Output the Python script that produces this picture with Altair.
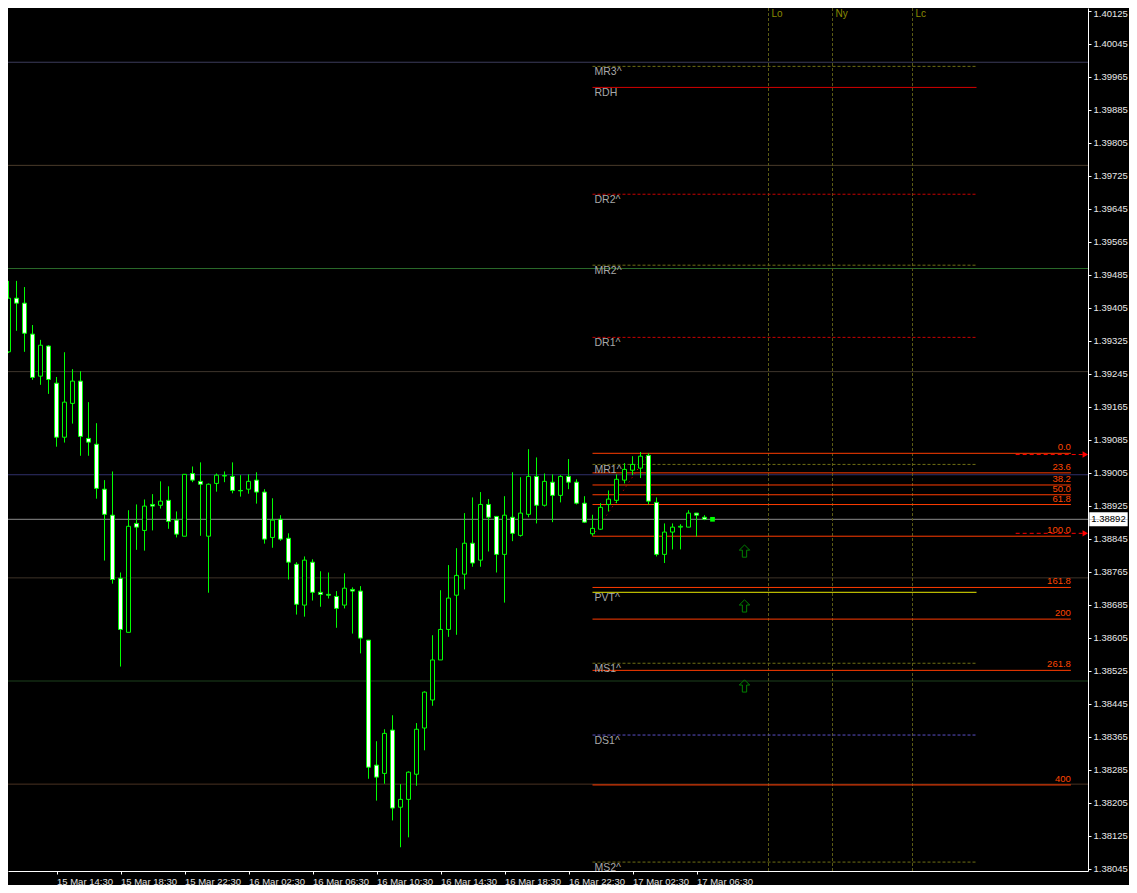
import json
import altair as alt
import pandas as pd

# ---------------- data (30-minute bars, index 0..89) ----------------
bars = list(range(90))
opens = [1.39200, 1.39298, 1.39428, 1.39416, 1.39341, 1.39239, 1.39312, 1.39222, 1.39091, 1.39173,
         1.39227, 1.39088, 1.39074, 1.38965, 1.38902, 1.38749, 1.38618, 1.38882, 1.38865, 1.38928,
         1.38926, 1.38938, 1.38890, 1.38851, 1.39003, 1.38984, 1.38851, 1.38979, 1.38998, 1.38996,
         1.38962, 1.38965, 1.38987, 1.38958, 1.38848, 1.38892, 1.38846, 1.38783, 1.38684, 1.38788,
         1.38715, 1.38710, 1.38705, 1.38684, 1.38722, 1.38718, 1.38599, 1.38296, 1.38276, 1.38381,
         1.38194, 1.38213, 1.38274, 1.38386, 1.38454, 1.38551, 1.38625, 1.38708, 1.38759, 1.38834,
         1.38793, 1.38928, 1.38899, 1.38807, 1.38897, 1.38853, 1.38904, 1.38996, 1.38926, 1.38982,
         1.38950, 1.38996, 1.38982, 1.38931, 1.38857, 1.38868, 1.38928, 1.38938, 1.38987, 1.39011,
         1.39016, 1.39047, 1.38933, 1.38807, 1.38861, 1.38873, 1.38873, 1.38907, 1.38897, 1.38892]
highs = [1.39346, 1.39470, 1.39470, 1.39455, 1.39363, 1.39327, 1.39314, 1.39237, 1.39297, 1.39256,
         1.39251, 1.39176, 1.39125, 1.38987, 1.39008, 1.38763, 1.38914, 1.38928, 1.38940, 1.38953,
         1.38984, 1.38972, 1.38911, 1.39001, 1.39020, 1.39030, 1.38979, 1.39003, 1.39008, 1.39030,
         1.38999, 1.39001, 1.39006, 1.38965, 1.38943, 1.38902, 1.38858, 1.38788, 1.38802, 1.38795,
         1.38766, 1.38763, 1.38718, 1.38761, 1.38727, 1.38730, 1.38599, 1.38354, 1.38383, 1.38417,
         1.38250, 1.38281, 1.38398, 1.38475, 1.38611, 1.38720, 1.38781, 1.38822, 1.38907, 1.38945,
         1.38958, 1.38941, 1.38899, 1.38948, 1.39006, 1.38994, 1.39062, 1.39042, 1.39003, 1.39001,
         1.38999, 1.39038, 1.38989, 1.38948, 1.38903, 1.38931, 1.38962, 1.39001, 1.39028, 1.39045,
         1.39055, 1.39052, 1.38945, 1.38882, 1.38882, 1.38880, 1.38914, 1.38907, 1.38902, 1.38893]
lows = [1.39138, 1.39295, 1.39349, 1.39298, 1.39230, 1.39218, 1.39196, 1.39068, 1.39078, 1.39124,
        1.39046, 1.39046, 1.38942, 1.38792, 1.38736, 1.38535, 1.38618, 1.38818, 1.38816, 1.38865,
        1.38918, 1.38869, 1.38848, 1.38851, 1.38982, 1.38852, 1.38714, 1.38959, 1.38982, 1.38955,
        1.38947, 1.38954, 1.38930, 1.38833, 1.38823, 1.38840, 1.38746, 1.38661, 1.38656, 1.38695,
        1.38680, 1.38700, 1.38629, 1.38676, 1.38615, 1.38567, 1.38263, 1.38210, 1.38251, 1.38162,
        1.38097, 1.38121, 1.38246, 1.38332, 1.38440, 1.38551, 1.38607, 1.38612, 1.38722, 1.38777,
        1.38777, 1.38814, 1.38763, 1.38690, 1.38839, 1.38850, 1.38897, 1.38882, 1.38923, 1.38885,
        1.38933, 1.38965, 1.38928, 1.38883, 1.38852, 1.38866, 1.38911, 1.38931, 1.38979, 1.38999,
        1.38992, 1.38928, 1.38802, 1.38786, 1.38819, 1.38819, 1.38873, 1.38850, 1.38890, 1.38891]
closes = [1.39292, 1.39428, 1.39416, 1.39343, 1.39236, 1.39314, 1.39231, 1.39091, 1.39176, 1.39227,
          1.39093, 1.39079, 1.38967, 1.38904, 1.38746, 1.38625, 1.38875, 1.38873, 1.38924, 1.38924,
          1.38936, 1.38887, 1.38856, 1.39001, 1.38987, 1.38977, 1.38977, 1.38999, 1.38997, 1.38962,
          1.38961, 1.38984, 1.38958, 1.38844, 1.38890, 1.38844, 1.38788, 1.38686, 1.38793, 1.38715,
          1.38710, 1.38708, 1.38676, 1.38725, 1.38718, 1.38604, 1.38291, 1.38267, 1.38373, 1.38192,
          1.38213, 1.38279, 1.38383, 1.38473, 1.38551, 1.38625, 1.38701, 1.38756, 1.38834, 1.38786,
          1.38928, 1.38897, 1.38807, 1.38902, 1.38858, 1.38907, 1.38996, 1.38926, 1.38984, 1.38950,
          1.38996, 1.38982, 1.38931, 1.38885, 1.38870, 1.38921, 1.38941, 1.38989, 1.39013, 1.39025,
          1.39045, 1.38936, 1.38807, 1.38861, 1.38873, 1.38875, 1.38907, 1.38902, 1.38892, 1.38892]
current_price = 1.38892

time_tick_bars = [-1, 7, 15, 23, 31, 39, 47, 55, 63, 71, 79, 87]
time_tick_labels = ["15 Mar 10:30", "15 Mar 14:30", "15 Mar 18:30", "15 Mar 22:30",
                    "16 Mar 02:30", "16 Mar 06:30", "16 Mar 10:30", "16 Mar 14:30",
                    "16 Mar 18:30", "16 Mar 22:30", "17 Mar 02:30", "17 Mar 06:30"]
price_ticks = [1.40125, 1.40045, 1.39965, 1.39885, 1.39805, 1.39725, 1.39645, 1.39565, 1.39485,
               1.39405, 1.39325, 1.39245, 1.39165, 1.39085, 1.39005, 1.38925, 1.38845, 1.38765,
               1.38685, 1.38605, 1.38525, 1.38445, 1.38365, 1.38285, 1.38205, 1.38125, 1.38045]

round_prices = [1.4000, 1.3975, 1.3950, 1.3925, 1.3900, 1.3875, 1.3850, 1.3825]

level_names = ["MR3^", "RDH", "DR2^", "MR2^", "DR1^", "MR1^", "PVT^", "MS1^", "DS1^", "MS2^"]
level_prices = [1.39990, 1.39939, 1.39680, 1.39508, 1.39333, 1.39025, 1.38715, 1.38543, 1.38369, 1.38061]

fib_high = 1.39052
fib_low = 1.38851
fib_ratios = [0.0, 23.6, 38.2, 50.0, 61.8, 100.0, 161.8, 200.0, 261.8, 400.0]
fib_labels = ["0.0", "23.6", "38.2", "50.0", "61.8", "100.0", "161.8", "200", "261.8", "400"]
alert_prices = [1.39049, 1.38858]

session_bars = [96, 104, 114]
session_names = ["Lo", "Ny", "Lc"]

arrow_bars = [93, 93, 93]
arrow_prices = [1.38815, 1.38682, 1.38488]

# ---------------- styles ----------------
round_colors = ["#3c3c5c", "#4a3a2a", "#2a6a2a", "#3e352c", "#30306a", "#3e3228", "#1c401c", "#4a3222"]
olive = "#6e6e14"
level_style = {
    "MR3^": (olive, True), "RDH": ("#d40000", False), "DR2^": ("#c80000", True),
    "MR2^": (olive, True), "DR1^": ("#c80000", True), "MR1^": (olive, True),
    "PVT^": ("#e6e600", False), "MS1^": (olive, True), "DS1^": ("#5a50c8", True),
    "MS2^": (olive, True),
}
FONT = "Liberation Sans"

# ---------------- scales & axes ----------------
xs = alt.Scale(domain=[0.9375, 135.9375], nice=False, zero=False)
ys = alt.Scale(domain=[1.380394, 1.401315], nice=False, zero=False)

label_expr = f"{json.dumps(time_tick_labels)}[indexof({json.dumps(time_tick_bars)}, datum.value)]"
x_axis = alt.Axis(orient="bottom", values=time_tick_bars, labelExpr=label_expr, title=None,
                  grid=False, tickSize=3, tickColor="#ffffff", domainColor="#ffffff",
                  labelColor="#e0e0e0", labelFont=FONT, labelFontSize=9.5, labelAlign="left",
                  labelBaseline="top", labelOffset=0, labelPadding=2, labelOverlap=False,
                  labelFlush=False)
y_axis = alt.Axis(orient="right", values=price_ticks, format=".5f", title=None, grid=False,
                  tickSize=3, tickColor="#ffffff", domainColor="#ffffff", labelColor="#e8e8e8",
                  labelFont=FONT, labelFontSize=9.5, labelPadding=2, labelOverlap=False,
                  labelFlush=False,
                  labelBaseline={"condition": {"test": "datum.value > 1.401", "value": "top"},
                                 "value": "middle"},
                  labelOffset={"condition": {"test": "datum.value > 1.401", "value": -2},
                               "value": 0})


def X(field):
    return alt.X(field, type="quantitative", scale=xs, axis=x_axis)


def XD(v):
    return alt.X(datum=v, type="quantitative", scale=xs, axis=x_axis)


def Y(field):
    return alt.Y(field, type="quantitative", scale=ys, axis=y_axis)


def YD(v):
    return alt.Y(datum=v, type="quantitative", scale=ys, axis=y_axis)


# ---------------- tables ----------------
candles = pd.DataFrame({"k": bars, "o": opens, "h": highs, "l": lows, "c": closes})
rounds = pd.DataFrame({"price": round_prices, "col": round_colors})
levels = pd.DataFrame({
    "name": level_names, "price": level_prices,
    "col": [level_style[n][0] for n in level_names],
    "dashed": [level_style[n][1] for n in level_names],
})
fibs = pd.DataFrame({
    "label": fib_labels,
    "price": [fib_high - r / 100.0 * (fib_high - fib_low) for r in fib_ratios],
})
fib_diag = pd.DataFrame({"k": [74, 81], "price": [fib_low, fib_high]})
alerts = pd.DataFrame({"price": alert_prices})
sessions = pd.DataFrame({"k": session_bars, "name": session_names})
arrows = pd.DataFrame({"k": arrow_bars, "price": arrow_prices})
cur = pd.DataFrame({"k": [bars[-1]], "price": [current_price],
                    "txt": [f"{current_price:.5f}"]})

# ---------------- layers ----------------
round_lines = alt.Chart(rounds).mark_rule(strokeWidth=1).encode(
    y=Y("price"), color=alt.Color("col:N", scale=None))
price_line = alt.Chart(cur).mark_rule(color="#8c8c8c", strokeWidth=1).encode(y=Y("price"))
session_lines = alt.Chart(sessions).mark_rule(color="#5a5a14", strokeDash=[3, 2],
                                              strokeWidth=1).encode(x=X("k"))

lvl_dashed = alt.Chart(levels).transform_filter("datum.dashed").mark_rule(
    strokeDash=[3, 2], strokeWidth=1).encode(
    x=XD(74), x2=alt.X2(datum=122), y=Y("price"), color=alt.Color("col:N", scale=None))
lvl_solid = alt.Chart(levels).transform_filter("!datum.dashed").mark_rule(
    strokeWidth=1).encode(
    x=XD(74), x2=alt.X2(datum=122), y=Y("price"), color=alt.Color("col:N", scale=None))

fib_lines = alt.Chart(fibs).mark_rule(color="#ff3c00", strokeWidth=1).encode(
    x=XD(74), x2=alt.X2(datum=133.8), y=Y("price"))
fib_line_diag = alt.Chart(fib_diag).mark_line(color="#ff0000", strokeDash=[1, 4],
                                              strokeWidth=1).encode(x=X("k"), y=Y("price"))
alert_lines = alt.Chart(alerts).mark_rule(color="#ff0000", strokeDash=[4, 3],
                                          strokeWidth=1).encode(
    x=XD(126.9), x2=alt.X2(datum=135.3), y=Y("price"))
alert_marks = alt.Chart(alerts).mark_point(shape="triangle-right", filled=True,
                                           color="#ff0000", size=40, opacity=1).encode(
    x=XD(135.6), y=Y("price"))

wicks = alt.Chart(candles).mark_rule(color="#00ff00", strokeWidth=1, clip=True).encode(
    x=X("k"), y=Y("l"), y2=alt.Y2("h"))
bodies = alt.Chart(candles).transform_calculate(
    xl="datum.k - 0.25", xr="datum.k + 0.25").mark_rect(
    stroke="#00ff00", strokeWidth=1, clip=True).encode(
    x=X("xl"), x2=alt.X2("xr"), y=Y("o"), y2=alt.Y2("c"),
    fill=alt.condition("datum.c > datum.o", alt.value("#000000"), alt.value("#ffffff")))
last_dot = alt.Chart(cur).mark_square(color="#00ff00", filled=True, size=22,
                                      opacity=1).encode(x=X("k"), y=Y("price"))

arrow_path = "M0,-1L0.85,-0.15L0.35,-0.15L0.35,1L-0.35,1L-0.35,-0.15L-0.85,-0.15Z"
arrow_marks = alt.Chart(arrows).mark_point(shape=arrow_path, filled=False, stroke="#008000",
                                           strokeWidth=1, size=150, opacity=1).encode(
    x=X("k"), y=Y("price"))

level_text = alt.Chart(levels).mark_text(align="left", baseline="top", dx=2, dy=1,
                                         color="#a8a8a8", font=FONT, fontSize=10.5).encode(
    x=XD(74), y=Y("price"), text="name:N")
fib_text = alt.Chart(fibs).mark_text(align="right", baseline="bottom", dy=-1,
                                     color="#ff4500", font=FONT, fontSize=9.5).encode(
    x=XD(133.8), y=Y("price"), text="label:N")
session_text = alt.Chart(sessions).mark_text(align="left", baseline="top", dx=3, dy=1,
                                             color="#8a8a00", font=FONT, fontSize=10).encode(
    x=X("k"), y=YD(1.40131), text="name:N")

price_box = alt.Chart(cur).mark_rect(color="#ffffff").encode(
    x=XD(136.1), x2=alt.X2(datum=140.9),
    y=Y("price"), y2=alt.Y2("box_top:Q")).transform_calculate(box_top="datum.price + 0.00017")
price_box2 = alt.Chart(cur).mark_rect(color="#ffffff").encode(
    x=XD(136.1), x2=alt.X2(datum=140.9),
    y=Y("price"), y2=alt.Y2("box_bot:Q")).transform_calculate(box_bot="datum.price - 0.00017")
price_text = alt.Chart(cur).mark_text(align="center", baseline="middle", color="#000000",
                                      font=FONT, fontSize=9.5).encode(
    x=XD(138.5), y=Y("price"), text="txt:N")

chart = alt.layer(
    round_lines, price_line, session_lines, lvl_dashed, lvl_solid, fib_lines, fib_line_diag,
    alert_lines, alert_marks, level_text, wicks, bodies, last_dot, arrow_marks, fib_text,
    session_text, price_box, price_box2, price_text,
).properties(
    width=1080, height=863, background="#000000",
    padding={"left": 0, "top": 0, "right": 41, "bottom": 14},
    autosize=alt.AutoSizeParams(type="none"),
).configure_view(stroke="transparent")

chart.save("out.html", embed_options={"renderer": "svg", "actions": False})
